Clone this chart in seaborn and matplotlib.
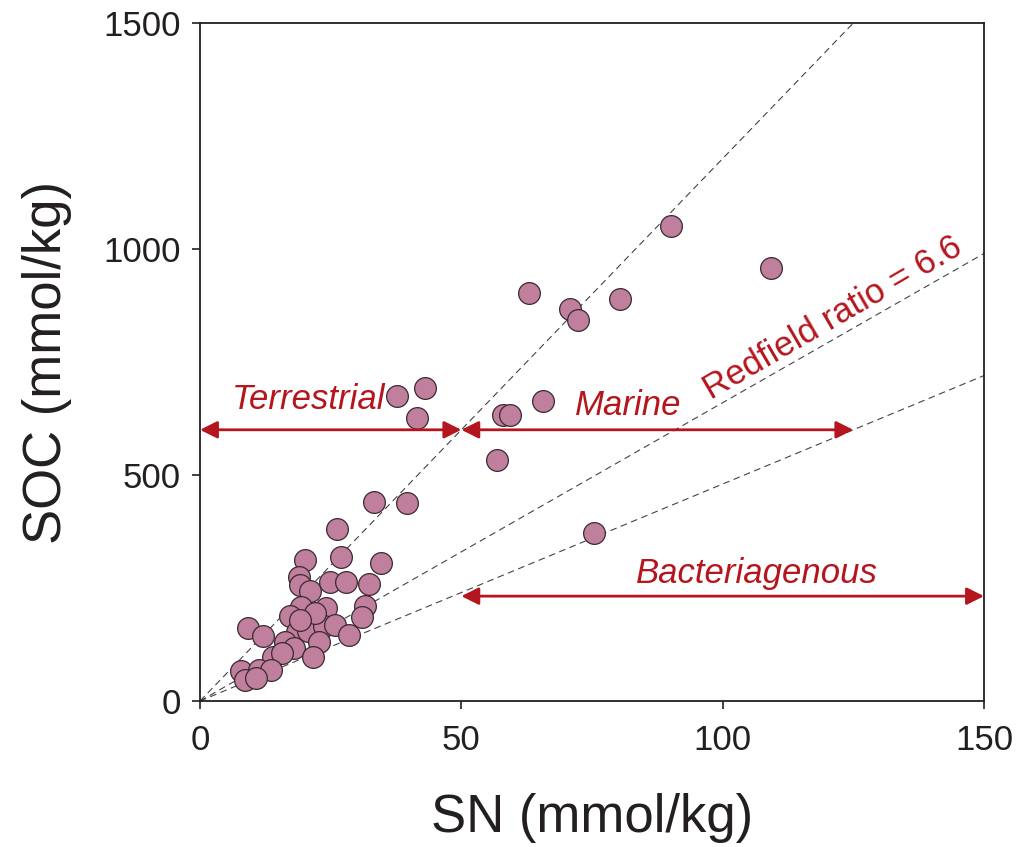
import matplotlib
matplotlib.use("Agg")
import matplotlib.pyplot as plt
import seaborn as sns
import numpy as np
import pandas as pd

# ---- data ----
sn = [26.3, 20.1, 26.9, 34.6, 19.0, 19.1, 21.0, 24.9, 27.9, 32.3, 19.3, 17.3,
      24.2, 31.6, 30.9, 18.5, 20.7, 23.7, 25.8, 28.5, 9.1, 12.1, 16.3, 18.0,
      22.8, 21.6, 13.9, 15.6, 7.9, 11.2, 13.5, 8.6, 10.7, 22.0, 19.1,
      37.6, 43.0, 41.6, 58.0, 59.3, 65.6, 56.8, 33.2, 39.7, 75.4, 90.1, 109.2,
      62.9, 70.8, 72.4, 80.4]
soc = [380, 312, 318, 305, 275, 257, 244, 264, 264, 258, 207, 189,
       205, 210, 185, 153, 155, 166, 168, 146, 161, 144, 130, 117,
       131, 97, 98, 106, 66, 69, 69, 46, 51, 194, 179,
       675, 693, 625, 633, 633, 664, 533, 441, 437, 371, 1051, 957,
       902, 867, 843, 889]

ratio_slopes = [12.0, 6.6, 4.8]
ratio_xmax = [125, 150, 150]

x_ticks = [0, 50, 100, 150]
y_ticks = [0, 500, 1000, 1500]

df = pd.DataFrame({"SN": sn, "SOC": soc})

sns.set_style("ticks")
plt.rcParams["font.family"] = ["Liberation Sans", "DejaVu Sans"]

fig = plt.figure(figsize=(10.2, 8.47), dpi=100)
ax = fig.add_axes([200/1020, 1-701/847, 784/1020, 678/847])

red = "#B5161E"
dark = "#231F20"

for k, xm in zip(ratio_slopes, ratio_xmax):
    xs = np.array([0, xm])
    ax.plot(xs, k*xs, ls=(0, (6, 4)), color="#444444", lw=0.8, zorder=1)

sns.scatterplot(data=df, x="SN", y="SOC", ax=ax, s=245, color="#BF7F9D",
                edgecolor="#3a2a30", linewidth=0.9, zorder=3, legend=False)

arrow_kw = dict(arrowstyle="<|-|>", color=red, lw=2, mutation_scale=26,
                shrinkA=0, shrinkB=0)
ax.annotate("", xy=(0, 600), xytext=(50, 600), arrowprops=arrow_kw, zorder=4)
ax.annotate("", xy=(50, 600), xytext=(125, 600), arrowprops=arrow_kw, zorder=4)
ax.annotate("", xy=(50, 232), xytext=(150, 232), arrowprops=arrow_kw, zorder=4)

fs = 25
ax.text(20.7, 666, "Terrestrial", color=red, fontsize=fs, style="italic",
        ha="center", va="center")
ax.text(82, 654, "Marine", color=red, fontsize=fs, style="italic",
        ha="center", va="center")
ax.text(106.5, 282, "Bacteriagenous", color=red, fontsize=fs, style="italic",
        ha="center", va="center")
ax.text(121, 846, "Redfield ratio = 6.6", color=red, fontsize=fs,
        ha="center", va="center", rotation=30.2, rotation_mode="anchor")

ax.set_xlim(0, 150)
ax.set_ylim(0, 1500)
ax.set_xticks(x_ticks)
ax.set_yticks(y_ticks)
ax.tick_params(axis="both", direction="out", length=5.5, width=1.2,
               labelsize=25, color=dark, labelcolor=dark)
ax.tick_params(axis="x", pad=11)
ax.tick_params(axis="y", pad=8.5)
for sp in ax.spines.values():
    sp.set_visible(True)
    sp.set_color(dark)
    sp.set_linewidth(1.3)

ax.set_xlabel("SN (mmol/kg)", fontsize=38, color=dark, labelpad=26)
ax.set_ylabel("SOC (mmol/kg)", fontsize=38, color=dark, labelpad=22)

fig.savefig("out.png", dpi=100)
